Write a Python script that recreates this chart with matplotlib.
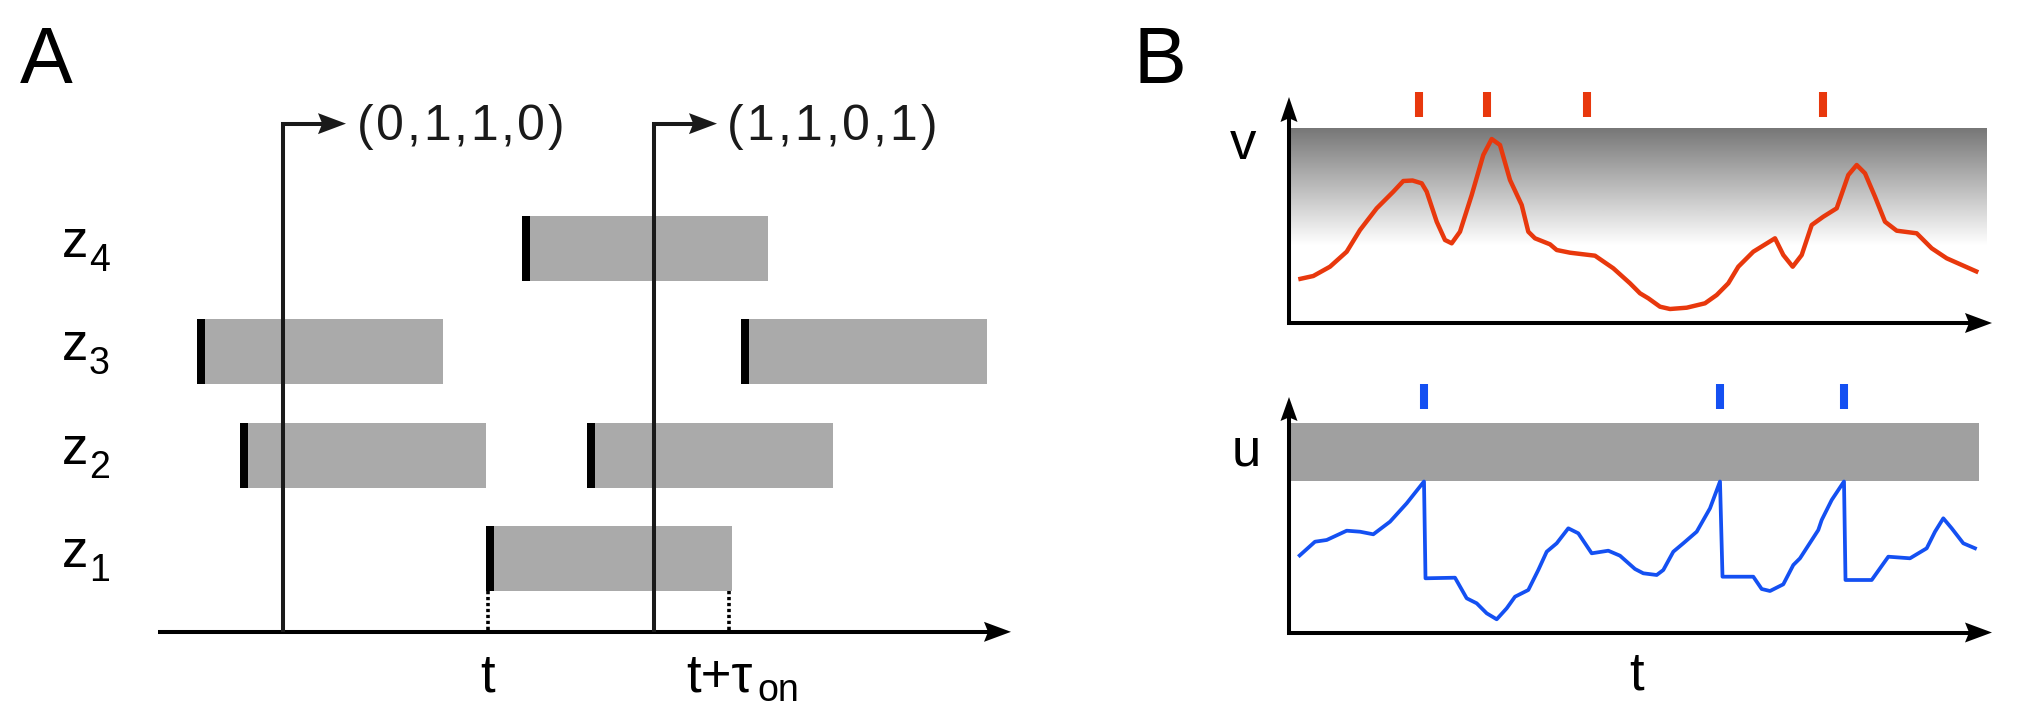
import matplotlib
matplotlib.use('Agg')
import matplotlib.pyplot as plt
import numpy as np
from matplotlib.patches import Rectangle, Polygon
from matplotlib.transforms import IdentityTransform
from matplotlib.colors import LinearSegmentedColormap
from matplotlib import font_manager
from matplotlib.ft2font import FT2Font

W, H, DPI = 2032, 709, 100
plt.rcParams['font.family'] = ['Liberation Sans', 'DejaVu Sans']

# ---------------- Panel A data ----------------
bar_rows = [1, 2, 2, 3, 3, 4]                 # z index of each "on" period
bar_onsets = [32.8, 8.2, 42.9, 3.9, 58.3, 36.4]
tau_on = 24.55
readout_times = [12.5, 49.6]
readout_labels = ['(0,1,1,0)', '(1,1,0,1)']
tick_times = [33.0, 57.1]                      # t and t+tau_on
row_labels = ['1', '2', '3', '4']

# ---------------- Panel B data ----------------
v_time = [9.3, 24.3, 41, 57.7, 71, 87.7, 104.3, 114.3, 123.5, 132.7, 137.7, 147.7, 156,
          162.7, 171, 182.7, 194.3, 202.7, 211, 221, 232.7, 239.3, 246, 261, 267.7, 281,
          306, 324.3, 341, 351, 359.3, 371, 381, 397.7, 416, 427.7, 439.3, 449.3, 464.3,
          486, 494.3, 503.7, 512.7, 522.7, 534.3, 547.7, 559.3, 567.7, 576, 586, 596,
          607.7, 627.7, 642.7, 657.7, 689.3]
v_vals = [43.7, 47, 56.3, 71.3, 93, 114.7, 131.3, 142, 142.5, 139.7, 131.3, 101.3, 83,
          79.7, 91.3, 128, 168, 184, 178, 143, 118, 91.3, 84.7, 78.7, 73, 70.3,
          67.3, 54.7, 39.7, 29.7, 24.7, 16.3, 14, 15.3, 19.7, 28, 39.7, 56.3, 71.3,
          84.7, 68, 56.3, 68, 98, 106.3, 114.7, 148, 158, 149.7, 126.3, 101.3,
          92.3, 89.7, 74.7, 64.7, 50.7]
v_spikes = [130, 198, 298, 534]

u_time = [9.3, 26, 37.7, 57.7, 71, 84.3, 101, 117.7, 135, 136.5, 166, 177.7, 187.7, 197.7,
          207.7, 217.7, 226, 239.3, 249.3, 257.7, 267.7, 279.3, 289.3, 302.7, 319.3, 331,
          346, 354.3, 367.7, 374.3, 384.3, 394.3, 407.7, 421, 431, 433.5, 464.3, 472.7,
          481, 494.3, 504.3, 511, 529.3, 532.7, 542.7, 555, 556.5, 582.7, 599.3, 621,
          637.7, 646, 654.3, 662.7, 674.3, 687.7]
u_vals = [75.8, 90.8, 92.5, 101.8, 100.8, 98.2, 110.8, 129.2, 151, 54.2, 54.8, 34.2, 29.2,
          19.2, 13.2, 24.2, 35.8, 42.5, 62.5, 80.8, 89.2, 104.2, 99.2, 79.2, 81.8, 76.8,
          63.5, 59.2, 57.5, 62.5, 80.8, 89.2, 100.8, 124.2, 151, 55.8, 55.8, 43.5,
          41.5, 48.2, 67.5, 74.2, 102.5, 112.5, 132.5, 151, 52.5, 52.5, 75.8, 74.2,
          84.2, 100.8, 114.2, 104.2, 89.2, 83.5]
u_spikes = [135, 431, 555]

RED = '#E8380D'
BLUE = '#1450F2'
BAR_GRAY = '#AAAAAA'
BAND_GRAY = '#A0A0A0'
LINE = '#1a1a1a'

fig = plt.figure(figsize=(W / DPI, H / DPI), dpi=DPI)


def px_axes(x0, y0, x1, y1, xlim, ylim):
    ax = fig.add_axes([x0 / W, 1 - y1 / H, (x1 - x0) / W, (y1 - y0) / H])
    ax.set_xlim(*xlim)
    ax.set_ylim(*ylim)
    ax.axis('off')
    return ax


def head(ax, x, y, direction, L, hw, color='black', notch=0.15):
    tx, ty = ax.transData.transform((x, y))
    ux, uy = (1, 0) if direction == 'right' else (0, 1)
    nx, ny = -uy, ux
    pts = [(tx, ty),
           (tx - L * ux + hw * nx, ty - L * uy + hw * ny),
           (tx - (1 - notch) * L * ux, ty - (1 - notch) * L * uy),
           (tx - L * ux - hw * nx, ty - L * uy - hw * ny)]
    ax.add_patch(Polygon(pts, closed=True, transform=IdentityTransform(),
                         facecolor=color, edgecolor='none', zorder=6, clip_on=False))


def back(ax, x, y, direction, d):
    tx, ty = ax.transData.transform((x, y))
    if direction == 'right':
        tx -= d
    else:
        ty -= d
    return ax.transData.inverted().transform((tx, ty))


def ftext(x, y, s, size, ha='left', color='black'):
    return fig.text(x / W, 1 - y / H, s, fontsize=size, ha=ha, va='baseline', color=color)


_font = FT2Font(font_manager.findfont(font_manager.FontProperties(family='Liberation Sans')))


def tracked_text(x, y, s, size, track, color='black'):
    _font.set_size(size, DPI)
    pen = x
    for c in s:
        g = _font.load_char(ord(c))
        ftext(pen, y, c, size, color=color)
        pen += g.linearHoriAdvance / 65536 + track


# ---------------- Panel A ----------------
# data x: 1 unit = 10 px, origin at px 158; data y: rows, 1 unit = 103.3 px
axA = px_axes(0, 0, 1100, H, (-15.8, 94.2), (-0.457, 6.407))
bar_h = 0.63
for r, t0 in zip(bar_rows, bar_onsets):
    axA.add_patch(Rectangle((t0, r - bar_h / 2), tau_on, bar_h, facecolor=BAR_GRAY,
                            edgecolor='none', zorder=2))
    axA.add_patch(Rectangle((t0, r - bar_h / 2), 0.8, bar_h, facecolor='black',
                            edgecolor='none', zorder=3))

axis_row = 0.29
axis_end = 85.3
bx, by = back(axA, axis_end, axis_row, 'right', 16)
axA.plot([0, bx], [axis_row, axis_row], color='black', lw=2.9, solid_capstyle='butt', zorder=4)
head(axA, axis_end, axis_row, 'right', 27, 10)

for tt in tick_times:
    axA.plot([tt, tt], [1 - bar_h / 2, axis_row], color='black', lw=2.6,
             linestyle=(0, (0.9, 0.75)), zorder=3)

readout_top = 5.21
readout_len = 6.3
for tr in readout_times:
    ex, ey = back(axA, tr + readout_len, readout_top, 'right', 16)
    axA.plot([tr, tr, ex], [axis_row, readout_top, readout_top], color=LINE, lw=2.9,
             solid_joinstyle='miter', solid_capstyle='butt', zorder=5)
    head(axA, tr + readout_len, readout_top, 'right', 28, 10.5, color=LINE)

ftext(20, 83, 'A', 57)
tracked_text(357, 140, readout_labels[0], 36, 2.6, color=LINE)
tracked_text(727, 140, readout_labels[1], 36, 3.0, color=LINE)
for i, lab in enumerate(row_labels):
    base = 567 - i * 103.3
    ftext(62, base, 'z', 38)
    ftext(89, base + 14, lab, 27)
ftext(488, 692, 't', 38, ha='center')
ttau = ftext(686, 692, 't+τ', 38)
fig.canvas.draw()
bb = ttau.get_window_extent(renderer=fig.canvas.get_renderer())
ftext(bb.x1 + 5, 701, 'on', 27)

# ---------------- Panel B top (v) ----------------
axV = px_axes(1200, 0, 2032, 340, (-89, 743), (-17, 323))
cmap = LinearSegmentedColormap.from_list('fade', ['white', '#777777'])
axV.imshow(np.linspace(0, 1, 256).reshape(-1, 1), cmap=cmap, origin='lower',
           extent=[0, 698, 78, 195], aspect='auto', zorder=1, interpolation='bilinear')
axV.plot(v_time, v_vals, color=RED, lw=3.2, solid_joinstyle='round',
         solid_capstyle='butt', zorder=3)
axV.vlines(v_spikes, 206, 231, color=RED, lw=5.8, zorder=3)
axV.plot([0, 0, 703 - 18], [226 - 16, 0, 0], color='black', lw=2.9,
         solid_joinstyle='miter', solid_capstyle='butt', zorder=4)
head(axV, 0, 226, 'up', 25, 8.5)
head(axV, 703, 0, 'right', 27, 10)
ftext(1133, 83, 'B', 57)
ftext(1230, 159, 'v', 38)

# ---------------- Panel B bottom (u) ----------------
axU = px_axes(1200, 340, 2032, H, (-89, 743), (-76.5, 292.5))
axU.add_patch(Rectangle((2, 151.5), 688, 58, facecolor=BAND_GRAY, edgecolor='none', zorder=1))
axU.plot(u_time, u_vals, color=BLUE, lw=2.7, solid_joinstyle='round',
         solid_capstyle='butt', zorder=3)
axU.vlines(u_spikes, 223.5, 248.5, color=BLUE, lw=5.8, zorder=3)
axU.plot([0, 0, 703 - 18], [235.5 - 15, 0, 0], color='black', lw=2.9,
         solid_joinstyle='miter', solid_capstyle='butt', zorder=4)
head(axU, 0, 235.5, 'up', 24, 8.5)
head(axU, 703, 0, 'right', 27, 10)
ftext(1232, 465, 'u', 38)
ftext(1637, 690, 't', 38, ha='center')

fig.savefig('out.png', dpi=DPI)
